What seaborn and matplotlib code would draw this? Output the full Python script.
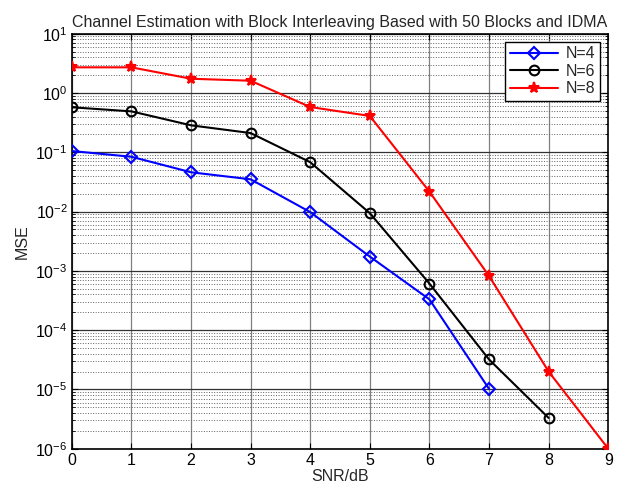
import pandas as pd
import numpy as np
import matplotlib
matplotlib.use('Agg')
import matplotlib.pyplot as plt
import seaborn as sns
from matplotlib.ticker import FixedLocator, NullFormatter

snr = [0, 1, 2, 3, 4, 5, 6, 7, 8, 9]
mse_n4 = [0.105, 0.084, 0.046, 0.035, 0.0098, 1.74e-3, 3.3e-4, 1.02e-5]
mse_n6 = [0.574, 0.49, 0.285, 0.211, 0.068, 0.0094, 6.1e-4, 3.2e-5, 3.3e-6]
mse_n8 = [2.71, 2.71, 1.74, 1.61, 0.58, 0.41, 0.0217, 8.2e-4, 2.0e-5, 1.0e-6]
labels = ['N=4', 'N=6', 'N=8']
decades = [-6, -5, -4, -3, -2, -1, 0, 1]

sns.set_style('ticks')
plt.rcParams['font.family'] = ['Liberation Sans', 'DejaVu Sans']
plt.rcParams['mathtext.default'] = 'regular'

rows = []
for lab, vals in zip(labels, [mse_n4, mse_n6, mse_n8]):
    for x, v in zip(snr, vals):
        rows.append({'SNR': x, 'MSE': v, 'N': lab})
df = pd.DataFrame(rows)

fig = plt.figure(figsize=(6.19, 4.93), dpi=100)
ax = fig.add_axes([0.116, 0.0899, 0.8666, 0.8417])

styles = {
    'N=4': dict(color='blue', marker='D', markerfacecolor='none', markersize=6),
    'N=6': dict(color='black', marker='o', markerfacecolor='none', markersize=7),
    'N=8': dict(color='red', marker='*', markerfacecolor='red', markersize=8),
}
for lab in labels:
    st = styles[lab]
    sns.lineplot(data=df[df['N'] == lab], x='SNR', y='MSE', ax=ax, label=lab,
                 color=st['color'], marker=st['marker'],
                 markerfacecolor=st['markerfacecolor'],
                 markeredgecolor=st['color'], markeredgewidth=1.5,
                 markersize=st['markersize'], linewidth=1.5, zorder=3)

ax.set_yscale('log')
ax.set_xlim(0, 9)
ax.set_ylim(1e-6, 10)
ax.set_xticks(range(10))
ax.set_yticks([10.0 ** k for k in decades])
ax.set_yticklabels(['$10^{%d}$' % k for k in decades])
minor = [m * 10.0 ** k for k in decades[:-1] for m in range(2, 10)]
ax.yaxis.set_minor_locator(FixedLocator(minor))
ax.yaxis.set_minor_formatter(NullFormatter())

ax.grid(True, which='major', axis='x', color='#808080', linestyle='-', linewidth=0.9)
ax.grid(True, which='major', axis='y', color='#333333', linestyle='-', linewidth=0.9)
ax.grid(True, which='minor', axis='y', color='#606060', linestyle=':', linewidth=0.7)

for s in ax.spines.values():
    s.set_visible(True)
    s.set_color('black')
    s.set_linewidth(1.2)
ax.tick_params(which='both', direction='in', top=True, right=True, labelsize=11.5,
               colors='black', pad=3)
ax.tick_params(which='major', length=4)
ax.tick_params(which='minor', length=2)

ax.set_xlabel('SNR/dB', fontsize=11.5, labelpad=1)
ax.set_ylabel('MSE', fontsize=11.5, labelpad=4)
ax.set_title('Channel Estimation with Block Interleaving Based with 50 Blocks and IDMA',
             fontsize=11.5, pad=5)

leg = ax.legend(loc='upper right', fontsize=11.5, handlelength=3.0, frameon=True,
                fancybox=False, edgecolor='black', framealpha=1,
                borderaxespad=0.5, labelspacing=0.15, handletextpad=0.5,
                borderpad=0.3)
leg.get_frame().set_linewidth(1.0)

fig.savefig('out.png', dpi=100, facecolor='white')
